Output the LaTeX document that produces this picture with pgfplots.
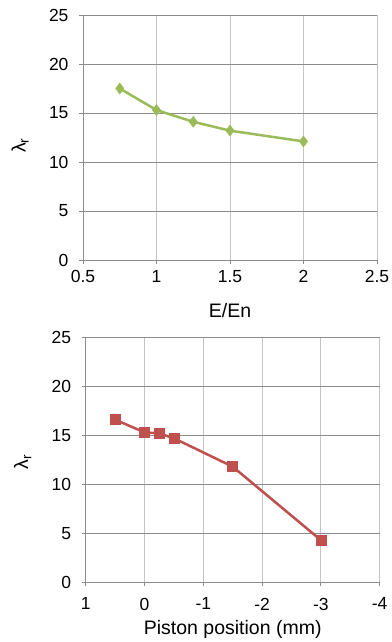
\documentclass[border=0pt]{standalone}
\usepackage{fontspec}
\setmainfont{Liberation Sans}
\usepackage{pgfplots}
\pgfplotsset{compat=1.18}
\definecolor{exgreen}{HTML}{9BBB59}
\definecolor{exred}{HTML}{C0504D}
\definecolor{gridd}{HTML}{8C8C8C}
\definecolor{gridl}{HTML}{C4C4C4}
\newcommand{\tickf}{\fontsize{17.5}{21}\selectfont}
\newcommand{\labf}{\fontsize{19.5}{23}\selectfont}
\begin{document}
\begin{tikzpicture}
\useasboundingbox (-83pt,-382pt) rectangle (308pt,260pt);
\pgfplotsset{
  myax/.style={
    scale only axis,
    width=294pt, height=245pt,
    /pgf/number format/assume math mode=true,
    ticklabel style={font=\tickf},
    label style={font=\labf},
    ymin=0, ymax=25, ytick={0,5,10,15,20,25},
    axis x line*=bottom, axis y line*=left,
    axis line style={gridd, line width=0.8pt},
    grid=major,
    x grid style={gridl, line width=0.9pt},
    y grid style={gridd, line width=0.8pt},
    tick align=outside, major tick length=4pt,
    tick style={gridd, line width=0.8pt},
    yticklabel style={xshift=-7pt},
    ylabel={λ\textsubscript{r}},
    clip=false,
  }
}
\begin{axis}[myax,
  at={(0pt,0pt)}, anchor=south west,
  xmin=0.5, xmax=2.5, xtick={0.5,1,1.5,2,2.5},
  xticklabel style={yshift=-3pt},
  xlabel={E/En},
  xlabel style={at={([yshift=-51pt]axis description cs:0.5,0)}, anchor=center},
  ylabel style={at={([xshift=-63pt]axis description cs:0,0.467)}, anchor=center},
]
\addplot[exgreen, line width=2.5pt, mark=diamond*, mark size=5.5pt, mark options={fill=exgreen, line width=0.5pt}]
  coordinates {(0.75,17.5) (1.0,15.3) (1.25,14.1) (1.5,13.2) (2.0,12.1)};
\end{axis}
\begin{axis}[myax,
  at={(2.7pt,-322.3pt)}, anchor=south west,
  x dir=reverse,
  xmin=-4, xmax=1, xtick={-4,-3,-2,-1,0,1},
  xticklabel style={yshift=-8pt},
  xlabel={Piston position (mm)},
  xlabel style={at={([yshift=-47pt]axis description cs:0.5,0)}, anchor=center},
  ylabel style={at={([xshift=-63pt]axis description cs:0,0.49)}, anchor=center},
]
\addplot[exred, line width=2.5pt, mark=square*, mark size=5pt, mark options={fill=exred, line width=0.5pt}]
  coordinates {(0.5,16.6) (0,15.3) (-0.25,15.2) (-0.5,14.7) (-1.5,11.8) (-3,4.3)};
\end{axis}
\end{tikzpicture}
\end{document}
